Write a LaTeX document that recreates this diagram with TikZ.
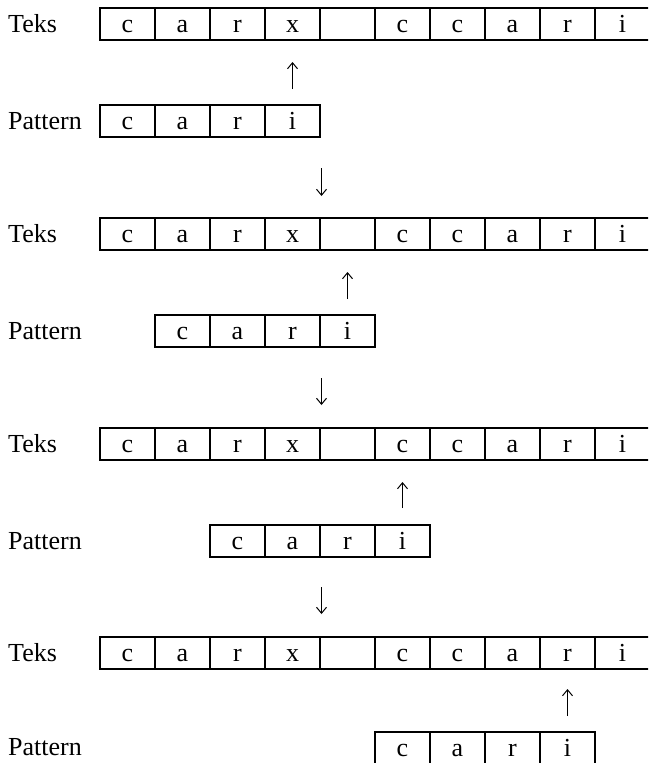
\documentclass[tikz,border=0pt]{standalone}
\usepackage{fontspec}
\setmainfont{Liberation Serif}
\usetikzlibrary{positioning}
\usetikzlibrary{arrows.meta}
\tikzset{
    cellbox/.style = {rectangle, draw=black, line width=1.4pt, minimum width=55pt, minimum height=32pt, inner sep=0, outer sep=0, text height=17.8pt, text depth=0pt, font=\fontsize{26}{30}\selectfont, text=black},
    rowlabel/.style = {anchor=west, inner sep=0, text height=17.8pt, text depth=0pt, font=\fontsize{26}{30}\selectfont, text=black},
    arrowup/.style = {-{Straight Barb[length=6pt,width=10pt]}, line width=1pt, black}, % match moves on
    arrowdown/.style = {-{Straight Barb[length=6pt,width=10pt]}, line width=1pt, black} % shift pattern
}

\begin{document}
\begin{tikzpicture}[x=1pt,y=-1pt]
\useasboundingbox (0,0) rectangle (648,763);
\clip (0,0) rectangle (648,763);

% row labels
\node[rowlabel] at (8, 24) (lt1) {Teks};
\node[rowlabel] at (8,121) (lp1) {Pattern};
\node[rowlabel] at (8,234) (lt2) {Teks};
\node[rowlabel] at (8,331) (lp2) {Pattern};
\node[rowlabel] at (8,444) (lt3) {Teks};
\node[rowlabel] at (8,541) (lp3) {Pattern};
\node[rowlabel] at (8,653) (lt4) {Teks};
\node[rowlabel] at (8,747) (lp4) {Pattern};

% text rows
\foreach \ch [count=\i] in {c,a,r,x,{},c,c,a,r,i}
  \node[cellbox] at ({72.5+55*\i}, 24) (t1c\i) {\ch};
\foreach \ch [count=\i] in {c,a,r,x,{},c,c,a,r,i}
  \node[cellbox] at ({72.5+55*\i},234) (t2c\i) {\ch};
\foreach \ch [count=\i] in {c,a,r,x,{},c,c,a,r,i}
  \node[cellbox] at ({72.5+55*\i},444) (t3c\i) {\ch};
\foreach \ch [count=\i] in {c,a,r,x,{},c,c,a,r,i}
  \node[cellbox] at ({72.5+55*\i},653) (t4c\i) {\ch};

% pattern rows
\foreach \ch [count=\i] in {c,a,r,i}
  \node[cellbox] at ({72.5+55*\i},121) (p1c\i) {\ch};
\foreach \ch [count=\i] in {c,a,r,i}
  \node[cellbox] at ({127.5+55*\i},331) (p2c\i) {\ch};
\foreach \ch [count=\i] in {c,a,r,i}
  \node[cellbox] at ({182.5+55*\i},541) (p3c\i) {\ch};
\foreach \ch [count=\i] in {c,a,r,i}
  \node[cellbox] at ({347.5+55*\i},748) (p4c\i) {\ch};

% compare arrows
\coordinate (up1a) at (292.5, 89);  \coordinate (up1b) at (292.5, 62);
\coordinate (up2a) at (347.5,299);  \coordinate (up2b) at (347.5,272);
\coordinate (up3a) at (402.5,508);  \coordinate (up3b) at (402.5,482);
\coordinate (up4a) at (567.5,716);  \coordinate (up4b) at (567.5,689);
\coordinate (dn1a) at (321.5,168);  \coordinate (dn1b) at (321.5,196);
\coordinate (dn2a) at (321.5,378);  \coordinate (dn2b) at (321.5,405);
\coordinate (dn3a) at (321.5,587);  \coordinate (dn3b) at (321.5,614);

\draw[arrowup] (up1a) -- (up1b);
\draw[arrowup] (up2a) -- (up2b);
\draw[arrowup] (up3a) -- (up3b);
\draw[arrowup] (up4a) -- (up4b);
\draw[arrowdown] (dn1a) -- (dn1b);
\draw[arrowdown] (dn2a) -- (dn2b);
\draw[arrowdown] (dn3a) -- (dn3b);

\end{tikzpicture}
\end{document}
